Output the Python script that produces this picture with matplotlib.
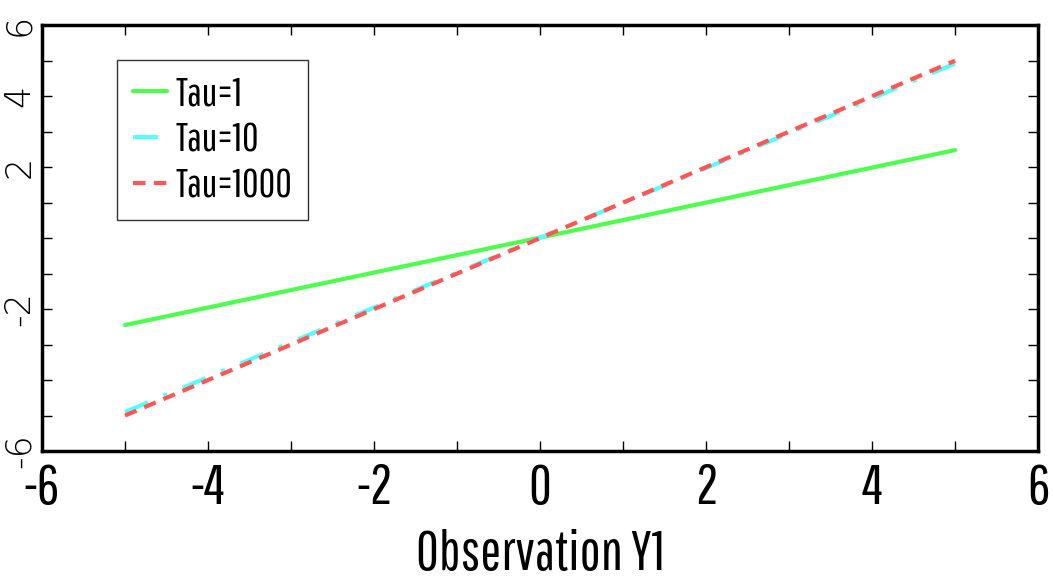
import matplotlib
matplotlib.use("Agg")
import matplotlib.pyplot as plt

# data
obs_y1 = [-5, 5]
tau1 = [-2.45, 2.48]
tau10 = [-4.9, 4.92]
tau1000 = [-5.0, 5.0]
x_ticks = [-6, -4, -2, 0, 2, 4, 6]
y_ticks = [-6, -4, -2, 0, 2, 4, 6]
y_labels = ['-6', '', '-2', '', '2', '4', '6']

plt.rcParams['font.family'] = ['Pathway Gothic One', 'DejaVu Sans']

fig = plt.figure(figsize=(10.53, 5.85), dpi=100)
ax = fig.add_axes([0.0399, 0.229, 0.946, 0.728])

ax.plot(obs_y1, tau1, color='#4cff4c', lw=3, solid_capstyle='round', label='Tau=1')
ax.plot(obs_y1, tau10, color='#55ffff', lw=3, ls=(0, (6, 4, 1, 4)), label='Tau=10')
ax.plot(obs_y1, tau1000, color='#ff5555', lw=3, ls=(0, (3, 2)), label='Tau=1000')

ax.set_xlim(-6, 6)
ax.set_ylim(-6, 6)
ax.set_xticks(x_ticks)
ax.set_xticklabels([str(v) for v in x_ticks], fontsize=40)
ax.set_yticks(y_ticks)
ax.set_yticklabels(y_labels, rotation=90, va='center')
for t in ax.get_yticklabels():
    t.set_fontfamily(['DejaVu Sans'])
    t.set_fontsize(25)
    t.set_fontweight('light')
ax.set_xticks(range(-5, 6, 2), minor=True)
ax.set_yticks(range(-5, 6, 2), minor=True)
ax.tick_params(which='both', direction='in', top=True, right=True, width=1.0, length=7)
ax.tick_params(axis='x', which='major', pad=8)
ax.tick_params(axis='y', which='major', pad=4)
for s in ax.spines.values():
    s.set_linewidth(2.5)

ax.set_xlabel('Observation Y1', fontsize=40, labelpad=11)

leg = ax.legend(loc='upper left', bbox_to_anchor=(0.075, 0.918), borderaxespad=0,
                fontsize=29, fancybox=False, edgecolor='black', handlelength=0.85,
                handletextpad=0.2, borderpad=0.4, labelspacing=0.25)
leg.get_frame().set_linewidth(1.0)

fig.savefig('out.png', dpi=100)
